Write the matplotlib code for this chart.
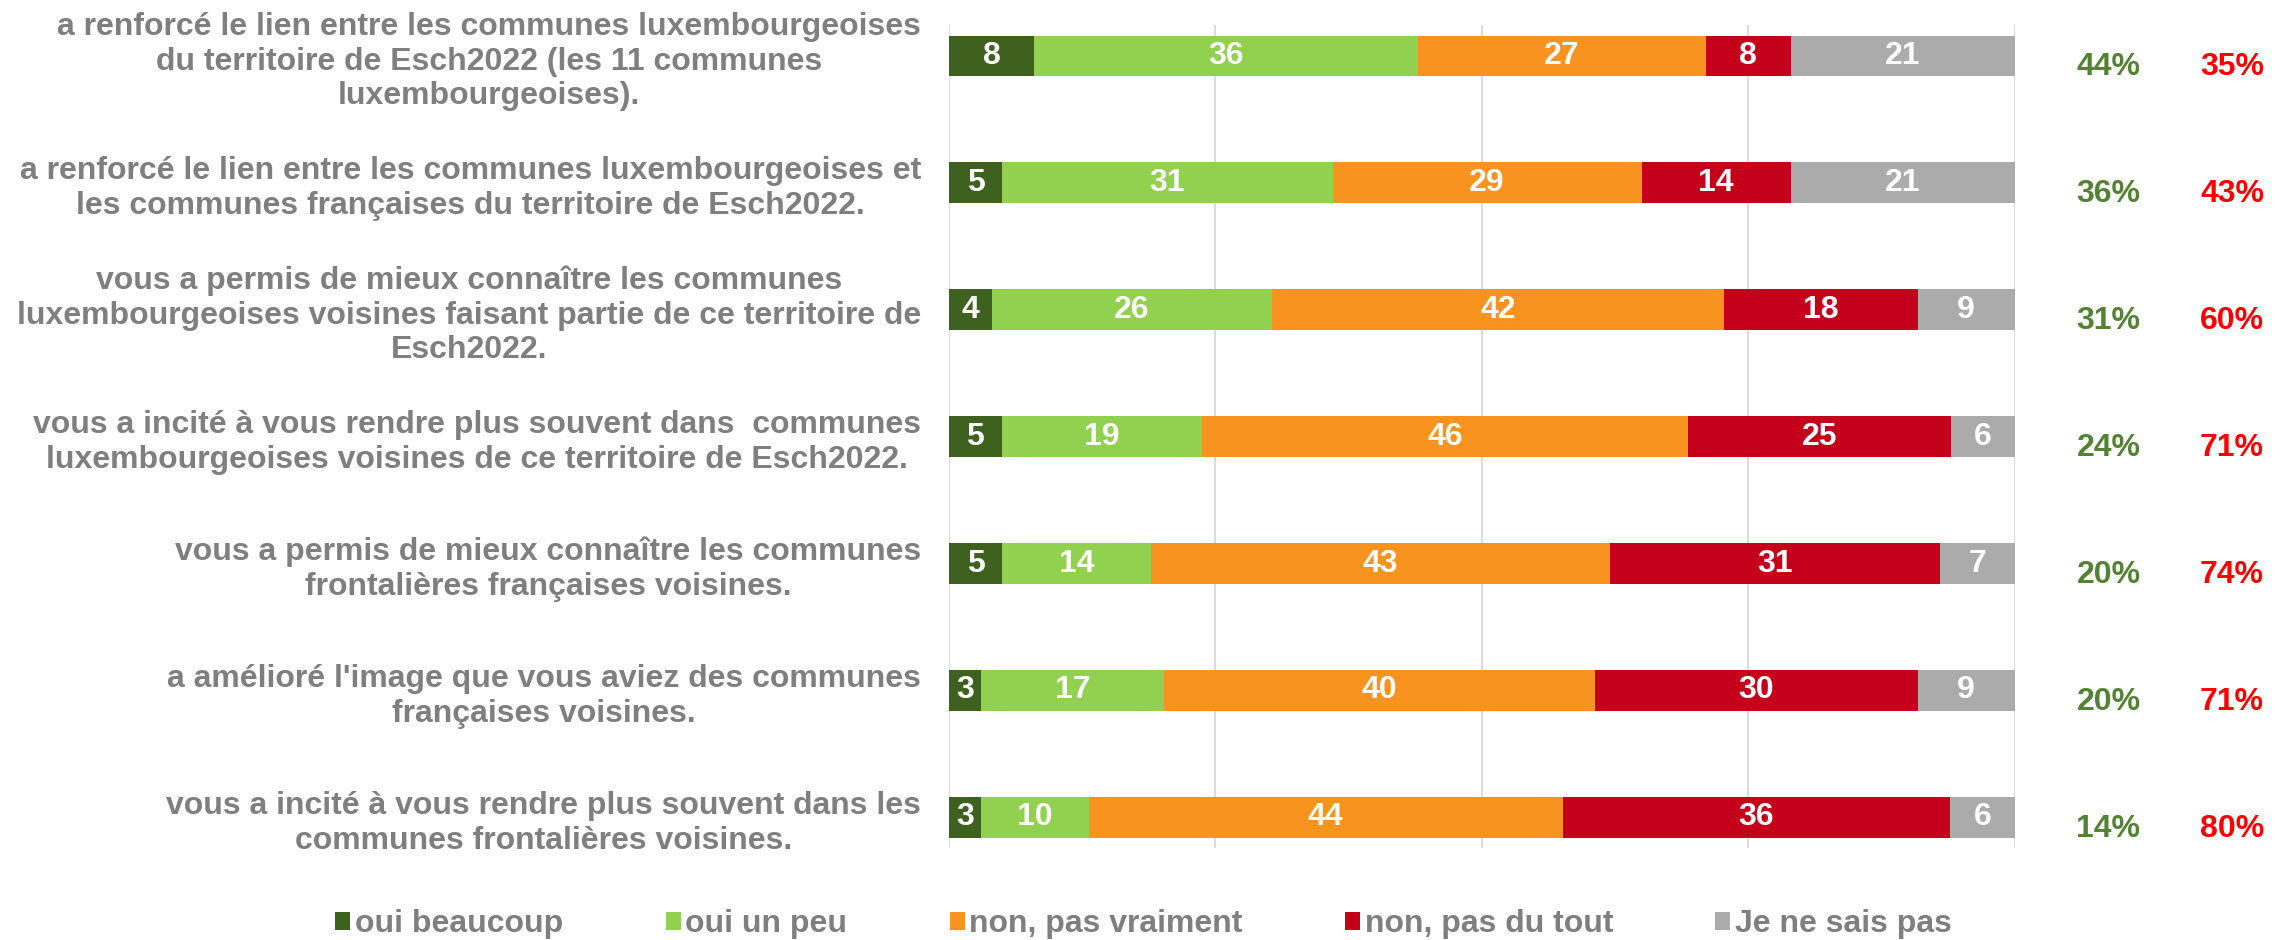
import matplotlib
matplotlib.use("Agg")
from matplotlib import pyplot as plt
from matplotlib.patches import Patch

plt.rcParams['font.family'] = ['Liberation Sans', 'DejaVu Sans']

questions = [
    "a renforcé le lien entre les communes luxembourgeoises\ndu territoire de Esch2022 (les 11 communes\nluxembourgeoises).",
    "a renforcé le lien entre les communes luxembourgeoises et\nles communes françaises du territoire de Esch2022.",
    "vous a permis de mieux connaître les communes\nluxembourgeoises voisines faisant partie de ce territoire de\nEsch2022.",
    "vous a incité à vous rendre plus souvent dans  communes\nluxembourgeoises voisines de ce territoire de Esch2022.",
    "vous a permis de mieux connaître les communes\nfrontalières françaises voisines.",
    "a amélioré l'image que vous aviez des communes\nfrançaises voisines.",
    "vous a incité à vous rendre plus souvent dans les\ncommunes frontalières voisines.",
]

oui_beaucoup = [8, 5, 4, 5, 5, 3, 3]
oui_un_peu = [36, 31, 26, 19, 14, 17, 10]
non_pas_vraiment = [27, 29, 42, 46, 43, 40, 44]
non_pas_du_tout = [8, 14, 18, 25, 31, 30, 36]
ne_sais_pas = [21, 21, 9, 6, 7, 9, 6]

total_oui = ["44%", "36%", "31%", "24%", "20%", "20%", "14%"]
total_non = ["35%", "43%", "60%", "71%", "74%", "71%", "80%"]

series = [
    ("oui beaucoup", oui_beaucoup, "#3F6120"),
    ("oui un peu", oui_un_peu, "#92D050"),
    ("non, pas vraiment", non_pas_vraiment, "#F7931E"),
    ("non, pas du tout", non_pas_du_tout, "#C5001A"),
    ("Je ne sais pas", ne_sais_pas, "#ABABAB"),
]

grey = "#7F7F7F"

fig = plt.figure(figsize=(22.92, 9.40), dpi=100)
ax = fig.add_axes([0.414, 0.098, 0.465, 0.875])

y = list(range(len(questions)))
sums = [sum(s[1][i] for s in series) for i in y]
left = [0.0] * len(y)

# barres empilées à 100 %
for name, vals, color in series:
    widths = [vals[i] / sums[i] * 100 for i in y]
    ax.barh(y, widths, left=left, height=0.32, color=color, label=name, zorder=3)
    for i in y:
        ax.text(left[i] + widths[i] / 2, y[i], str(vals[i]), ha="center", va="center",
                color="white", fontsize=23, fontweight="bold", zorder=4)
    left = [left[i] + widths[i] for i in y]

# totaux oui / non à droite
for i in y:
    ax.text(108.8, y[i] + 0.09, total_oui[i], ha="center", va="center", color="#548235",
            fontsize=23, fontweight="bold", clip_on=False)
    ax.text(120.4, y[i] + 0.09, total_non[i], ha="center", va="center", color="#FF0000",
            fontsize=23, fontweight="bold", clip_on=False)

ax.set_xlim(0, 100)
ax.set_ylim(len(y) - 1 + 0.24, -0.24)
ax.set_xticks([0, 25, 50, 75, 100])
ax.set_xticklabels([])
ax.tick_params(axis="x", length=0)
ax.grid(axis="x", color="#D9D9D9", linewidth=1.3, zorder=0)
ax.set_yticks(y)
ax.set_yticklabels(questions, fontsize=23, fontweight="bold", color=grey,
                   multialignment="center")
ax.tick_params(axis="y", length=0, pad=20)
for sp in ax.spines.values():
    sp.set_visible(False)

handles = [Patch(facecolor=c, label=n) for n, _, c in series]
leg = fig.legend(handles=handles, loc="center", bbox_to_anchor=(0.499, 0.017), ncol=5,
                 frameon=False, handlelength=0.47, handleheight=0.5, handletextpad=0.15,
                 columnspacing=3.2, prop={"size": 23, "weight": "bold"})
for t in leg.get_texts():
    t.set_color(grey)

fig.savefig("out.png", dpi=100)
